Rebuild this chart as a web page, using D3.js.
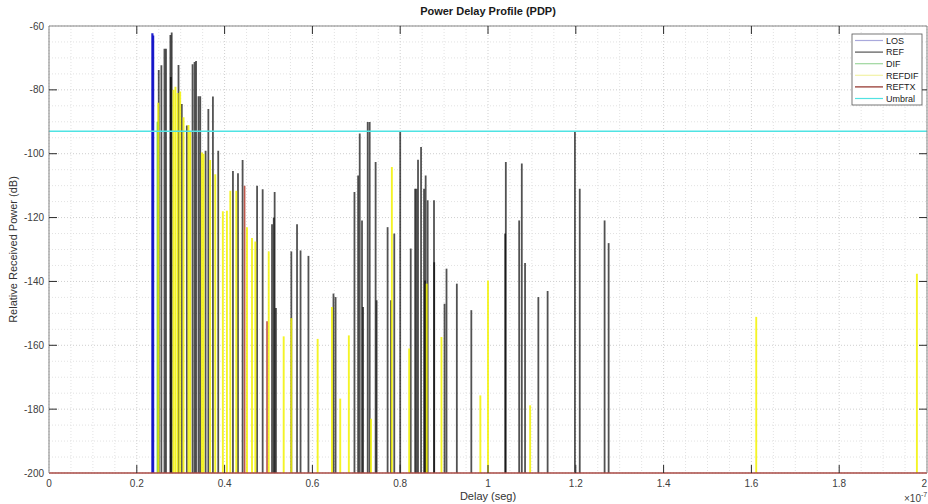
<!DOCTYPE html>
<html>
<head>
<meta charset="utf-8">
<script src="https://cdn.jsdelivr.net/npm/d3@7/dist/d3.min.js"></script>
<style>
  body { margin: 0; background: #fff; }
  text { font-family: "Liberation Sans", Arial, sans-serif; }
</style>
</head>
<body>
<svg id="chart" width="928" height="504"></svg>
<script>
// Delays are in units of 1e-7 s, powers in dB relative to the transmitted power.
const losDelay = [0.2355, 0.2372];
const losPower = [-62.3, -63.0];

const refDelay = [0.250, 0.256, 0.263, 0.2665, 0.2765, 0.2775, 0.2795, 0.295, 0.3025, 0.314,
  0.327, 0.3316, 0.335, 0.3406, 0.3445, 0.3567, 0.363, 0.3734, 0.3855, 0.419,
  0.4305, 0.441, 0.474, 0.4867, 0.508, 0.512, 0.514, 0.517, 0.552, 0.565,
  0.573, 0.591, 0.648, 0.6528, 0.6958, 0.7041, 0.7078, 0.713, 0.7155, 0.726,
  0.7305, 0.744, 0.7463, 0.7713, 0.779, 0.7865, 0.800, 0.824, 0.834, 0.837,
  0.8406, 0.8475, 0.8543, 0.8566, 0.858, 0.8626, 0.877, 0.8775, 0.901, 0.9055,
  0.929, 0.962, 1.039, 1.0406, 1.071, 1.077, 1.0844, 1.1147, 1.1358, 1.198,
  1.209, 1.2656, 1.2748];
const refPower = [-73.8, -72.3, -67.1, -67.1, -62.8, -76.0, -62.0, -72.2, -84.4, -91.2,
  -72.0, -71.3, -71.0, -82.0, -82.0, -99.1, -86.0, -82.1, -99.1, -105.4,
  -106.1, -102.0, -110.0, -111.1, -122.1, -120.0, -112.0, -148.3, -130.6, -122.1,
  -130.3, -132.0, -143.8, -144.9, -112.0, -106.8, -93.7, -120.9, -148.0, -90.1,
  -90.1, -102.6, -145.9, -123.0, -145.9, -125.0, -93.0, -129.7, -111.0, -111.0,
  -101.9, -97.9, -111.0, -139.7, -106.8, -114.6, -114.6, -134.0, -147.0, -136.0,
  -140.7, -149.0, -125.0, -102.6, -120.9, -103.1, -134.2, -144.9, -143.0, -93.0,
  -111.0, -120.9, -128.0];

const difDelay = [0.2473];
const difPower = [-90.0];

const refdifDelay = [0.249, 0.2836, 0.288, 0.293, 0.2988, 0.3065, 0.3178, 0.3217, 0.3483, 0.352,
  0.367, 0.3787, 0.396, 0.4053, 0.413, 0.4266, 0.451, 0.4624, 0.470, 0.5005,
  0.5346, 0.552, 0.612, 0.6445, 0.6634, 0.683, 0.7335, 0.781, 0.8204, 0.8604,
  0.894, 0.9826, 1.000, 1.096, 1.611, 1.977];
const refdifPower = [-84.0, -80.0, -79.0, -81.0, -80.5, -88.6, -91.0, -93.0, -99.6, -100.0,
  -102.0, -106.4, -118.0, -117.9, -111.6, -111.6, -123.0, -126.4, -127.5, -130.6,
  -157.2, -151.5, -158.0, -148.0, -176.7, -156.9, -183.0, -104.2, -161.0, -140.7,
  -157.4, -175.7, -139.7, -178.8, -151.1, -137.6];

const reftxDelay = [0.4456, 0.4966];
const reftxPower = [-110.0, -152.5];

const umbral = -93;

const xTicks = [0, 0.2, 0.4, 0.6, 0.8, 1, 1.2, 1.4, 1.6, 1.8, 2];
const yTicks = [-200, -180, -160, -140, -120, -100, -80, -60];

const legendNames = ["LOS", "REF", "DIF", "REFDIF", "REFTX", "Umbral"];

// ---- layout ----
const svg = d3.select("#chart");
const pLeft = 49, pRight = 927, pTop = 26, pBottom = 473;
const x = d3.scaleLinear().domain([0, 2]).range([pLeft, pRight]);
const y = d3.scaleLinear().domain([-200, -60]).range([pBottom, pTop]);

// grid: minor then major, dotted
const grid = svg.append("g");
const minorX = d3.range(0, 2.0001, 0.05).filter(v => Math.abs(v / 0.2 - Math.round(v / 0.2)) > 1e-6);
const minorY = d3.range(-200, -59.99, 5).filter(v => v % 20 !== 0);
grid.selectAll(".mx").data(minorX).join("line")
  .attr("x1", d => x(d)).attr("x2", d => x(d)).attr("y1", pTop).attr("y2", pBottom)
  .attr("stroke", "#e2e2e2").attr("stroke-dasharray", "1,2");
grid.selectAll(".my").data(minorY).join("line")
  .attr("x1", pLeft).attr("x2", pRight).attr("y1", d => y(d)).attr("y2", d => y(d))
  .attr("stroke", "#e2e2e2").attr("stroke-dasharray", "1,2");
grid.selectAll(".gx").data(xTicks).join("line")
  .attr("x1", d => x(d)).attr("x2", d => x(d)).attr("y1", pTop).attr("y2", pBottom)
  .attr("stroke", "#cfcfcf").attr("stroke-dasharray", "1,2");
grid.selectAll(".gy").data(yTicks).join("line")
  .attr("x1", pLeft).attr("x2", pRight).attr("y1", d => y(d)).attr("y2", d => y(d))
  .attr("stroke", "#cfcfcf").attr("stroke-dasharray", "1,2");

// ---- stems ----
function stems(delays, powers, color, width, opacity) {
  const data = delays.map((d, i) => ({ d, p: powers[i] }));
  svg.append("g").selectAll("line").data(data).join("line")
    .attr("x1", e => x(e.d)).attr("x2", e => x(e.d))
    .attr("y1", y(-200)).attr("y2", e => y(e.p))
    .attr("stroke", color).attr("stroke-width", width).attr("stroke-opacity", opacity);
}
stems(losDelay, losPower, "#1414c8", 2.2, 0.95);
stems(refDelay, refPower, "#000000", 1.8, 0.68);
stems(difDelay, difPower, "#3cb83c", 1.8, 0.85);
stems(refdifDelay, refdifPower, "#f2f200", 1.9, 0.85);
stems(reftxDelay, reftxPower, "#b03020", 1.6, 0.8);

// stem baseline at the bottom limit
svg.append("line")
  .attr("x1", pLeft).attr("x2", pRight).attr("y1", y(-200)).attr("y2", y(-200))
  .attr("stroke", "#a84a44").attr("stroke-width", 1.6);

// threshold line
svg.append("line")
  .attr("x1", pLeft).attr("x2", pRight).attr("y1", y(umbral)).attr("y2", y(umbral))
  .attr("stroke", "#4fe3e3").attr("stroke-width", 1.5);

// ---- axes box and inward ticks ----
const axisCol = "#858585", tickCol = "#2a2a2a", tl = 8;
svg.append("line").attr("x1", pLeft).attr("x2", pLeft).attr("y1", pTop).attr("y2", pBottom).attr("stroke", axisCol);
svg.append("line").attr("x1", pLeft).attr("x2", pRight).attr("y1", pTop).attr("y2", pTop).attr("stroke", axisCol);
svg.append("line").attr("x1", pRight).attr("x2", pRight).attr("y1", pTop).attr("y2", pBottom).attr("stroke", axisCol);

const tk = svg.append("g").attr("stroke", tickCol);
xTicks.slice(1, -1).forEach(v => {
  tk.append("line").attr("x1", x(v)).attr("x2", x(v)).attr("y1", pBottom).attr("y2", pBottom - tl);
  tk.append("line").attr("x1", x(v)).attr("x2", x(v)).attr("y1", pTop).attr("y2", pTop + tl);
});
yTicks.slice(1, -1).forEach(v => {
  tk.append("line").attr("x1", pLeft).attr("x2", pLeft + tl).attr("y1", y(v)).attr("y2", y(v));
  tk.append("line").attr("x1", pRight).attr("x2", pRight - tl).attr("y1", y(v)).attr("y2", y(v));
});

// tick labels (the last one is kept inside the page edge)
const lab = svg.append("g").attr("fill", "#404040").attr("font-size", 10);
lab.selectAll(".xl").data(xTicks).join("text")
  .attr("x", (d, i) => i === xTicks.length - 1 ? 927 : x(d)).attr("y", pBottom + 14)
  .attr("text-anchor", (d, i) => i === xTicks.length - 1 ? "end" : "middle")
  .text(d => d3.format("")(d));
lab.selectAll(".yl").data(yTicks).join("text")
  .attr("x", pLeft - 5).attr("y", d => y(d) + 3.5).attr("text-anchor", "end")
  .text(d => d);

// exponent of the delay axis
const ex = svg.append("text").attr("x", 904).attr("y", 502).attr("fill", "#404040").attr("font-size", 10);
ex.append("tspan").text("\u00d710");
ex.append("tspan").attr("dy", -5).attr("font-size", 7).text("-7");

// titles
svg.append("text").attr("x", (pLeft + pRight) / 2).attr("y", 15).attr("text-anchor", "middle")
  .attr("font-size", 11).attr("font-weight", "bold").attr("fill", "#1a1a1a")
  .text("Power Delay Profile (PDP)");
svg.append("text").attr("x", (pLeft + pRight) / 2).attr("y", 500).attr("text-anchor", "middle")
  .attr("font-size", 11).attr("fill", "#333").text("Delay (seg)");
svg.append("text").attr("transform", `translate(17,${(pTop + pBottom) / 2}) rotate(-90)`)
  .attr("text-anchor", "middle").attr("font-size", 11).attr("fill", "#333")
  .text("Relative Received Power (dB)");

// ---- legend ----
const legendColors = ["#a9a9dc", "#555555", "#9ed69e", "#f2f2a6", "#8e2a22", "#52e2e2"];
const lg = svg.append("g");
lg.append("rect").attr("x", 852).attr("y", 34).attr("width", 70).attr("height", 71)
  .attr("fill", "#fff").attr("stroke", "#555").attr("stroke-width", 0.8);
legendNames.forEach((n, i) => {
  const yy = 40.5 + i * 11.6;
  lg.append("line").attr("x1", 855).attr("x2", 883).attr("y1", yy).attr("y2", yy)
    .attr("stroke", legendColors[i]).attr("stroke-width", 1.2);
  lg.append("text").attr("x", 886).attr("y", yy + 3.2).attr("font-size", 9).attr("fill", "#222").text(n);
});
</script>
</body>
</html>
